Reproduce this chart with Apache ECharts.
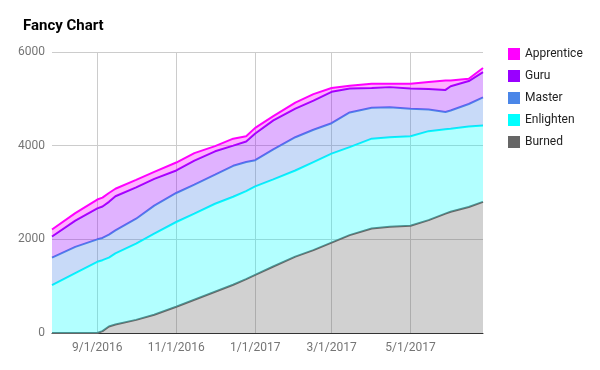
<!DOCTYPE html>
<html>
<head>
<meta charset="utf-8">
<script src="https://cdn.jsdelivr.net/npm/echarts@6/dist/echarts.min.js"></script>
<style>
html,body{margin:0;padding:0;background:#fff;}
#chart{width:600px;height:370px;}
</style>
</head>
<body>
<div id="chart"></div>
<script>
// ---- data ----
const dates = ['2016-07-28','2016-08-15','2016-09-01','2016-09-05','2016-09-10','2016-09-15','2016-10-01','2016-10-15','2016-11-01','2016-11-15','2016-12-01','2016-12-15','2016-12-25','2017-01-01','2017-01-15','2017-02-01','2017-02-15','2017-03-01','2017-03-15','2017-04-01','2017-04-15','2017-05-01','2017-05-15','2017-05-28','2017-06-01','2017-06-15','2017-06-26'];
const apprentice = [2210,2560,2850,2890,2990,3080,3270,3440,3640,3840,3990,4150,4200,4380,4630,4920,5100,5230,5280,5320,5320,5320,5360,5390,5390,5430,5660];
const guru       = [2060,2400,2660,2700,2800,2920,3110,3290,3470,3680,3880,4000,4090,4260,4540,4790,4960,5150,5220,5230,5250,5220,5210,5190,5270,5380,5570];
const master     = [1610,1840,2000,2030,2100,2190,2440,2720,2990,3170,3380,3570,3650,3690,3920,4180,4340,4480,4710,4810,4820,4790,4770,4720,4750,4890,5030];
const enlighten  = [1020,1280,1520,1555,1610,1700,1910,2120,2370,2550,2760,2910,3030,3130,3280,3470,3650,3830,3970,4150,4180,4200,4310,4350,4360,4410,4430];
const burned     = [0,0,0,40,140,180,280,390,560,710,880,1030,1150,1240,1420,1630,1770,1930,2090,2230,2270,2290,2410,2550,2590,2690,2800];
const xTickLabels = ['2016-09-01','2016-11-01','2017-01-01','2017-03-01','2017-05-01'];
const xRange = ['2016-07-28','2017-06-26'];
const yTicks = [0, 2000, 4000, 6000];
const seriesNames = ['Apprentice','Guru','Master','Enlighten','Burned'];
const seriesColors = ['#ff00ff','#9900ff','#4a86e8','#00ffff','#666666'];

function utc(s){ const p = s.split('-').map(Number); return Date.UTC(p[0], p[1]-1, p[2]); }
const DAY = 86400000;
const day0 = utc(xRange[0]);
function dayNum(s){ return Math.round((utc(s) - day0) / DAY); }
function dayLabel(n){ const d = new Date(day0 + Math.round(n) * DAY); return (d.getUTCMonth()+1) + '/' + d.getUTCDate() + '/' + d.getUTCFullYear(); }

// values from top to bottom; stacked from the bottom (Burned) so each band is filled once
const valuesTopDown = [apprentice, guru, master, enlighten, burned];
const series = [];
for (let k = valuesTopDown.length - 1; k >= 0; k--) {
  const vals = valuesTopDown[k];
  const below = valuesTopDown[k+1];
  series.push({
    name: seriesNames[k],
    type: 'line',
    stack: 'bands',
    xAxisIndex: 0,
    color: seriesColors[k],
    z: 10 - k,
    showSymbol: false,
    symbol: 'none',
    lineStyle: { width: 2, color: seriesColors[k] },
    areaStyle: { color: seriesColors[k], opacity: 0.3 },
    data: dates.map((d, i) => [utc(d), below ? vals[i] - below[i] : vals[i]])
  });
}

const xTickDays = xTickLabels.map(dayNum);
const axisText = { color: '#757575', fontSize: 12, fontFamily: 'Roboto' };

const chart = echarts.init(document.getElementById('chart'), null, {renderer: 'canvas'});
chart.setOption({
  animation: false,
  backgroundColor: '#ffffff',
  textStyle: { fontFamily: 'Roboto' },
  title: {
    text: 'Fancy Chart',
    left: 18, top: 14,
    textStyle: { fontFamily: 'Roboto', fontSize: 15, fontWeight: 'bold', color: '#000000' }
  },
  legend: {
    orient: 'vertical',
    left: 503, top: 43,
    itemWidth: 12, itemHeight: 12, itemGap: 10,
    icon: 'rect',
    data: seriesNames.map((n, i) => ({ name: n, itemStyle: { color: seriesColors[i] } })),
    textStyle: { fontFamily: 'Roboto', fontSize: 12, color: '#222222', lineHeight: 12 }
  },
  grid: { left: 52, right: 117, top: 52, bottom: 37, containLabel: false },
  xAxis: [{
    // time axis carrying the data (hidden)
    type: 'time',
    min: utc(xRange[0]),
    max: utc(xRange[1]),
    show: false,
    splitLine: { show: false }
  }, {
    // matching day axis used for the labels and vertical gridlines
    type: 'value',
    position: 'bottom',
    min: 0,
    max: dayNum(xRange[1]),
    axisLine: { show: true, onZero: false, lineStyle: { color: '#333333', width: 1 } },
    axisTick: { show: false, customValues: xTickDays },
    splitLine: { show: true, lineStyle: { color: '#cccccc', width: 1 } },
    axisLabel: Object.assign({
      customValues: xTickDays,
      margin: 9,
      formatter: function (v) { return dayLabel(v); }
    }, axisText)
  }],
  yAxis: {
    type: 'value',
    min: yTicks[0], max: yTicks[yTicks.length-1], interval: 2000,
    axisLine: { show: false },
    axisTick: { show: false },
    splitLine: { show: true, lineStyle: { color: '#cccccc', width: 1 } },
    axisLabel: Object.assign({ margin: 7, formatter: function (v) { return String(v); } }, axisText)
  },
  series: series
});
</script>
</body>
</html>
